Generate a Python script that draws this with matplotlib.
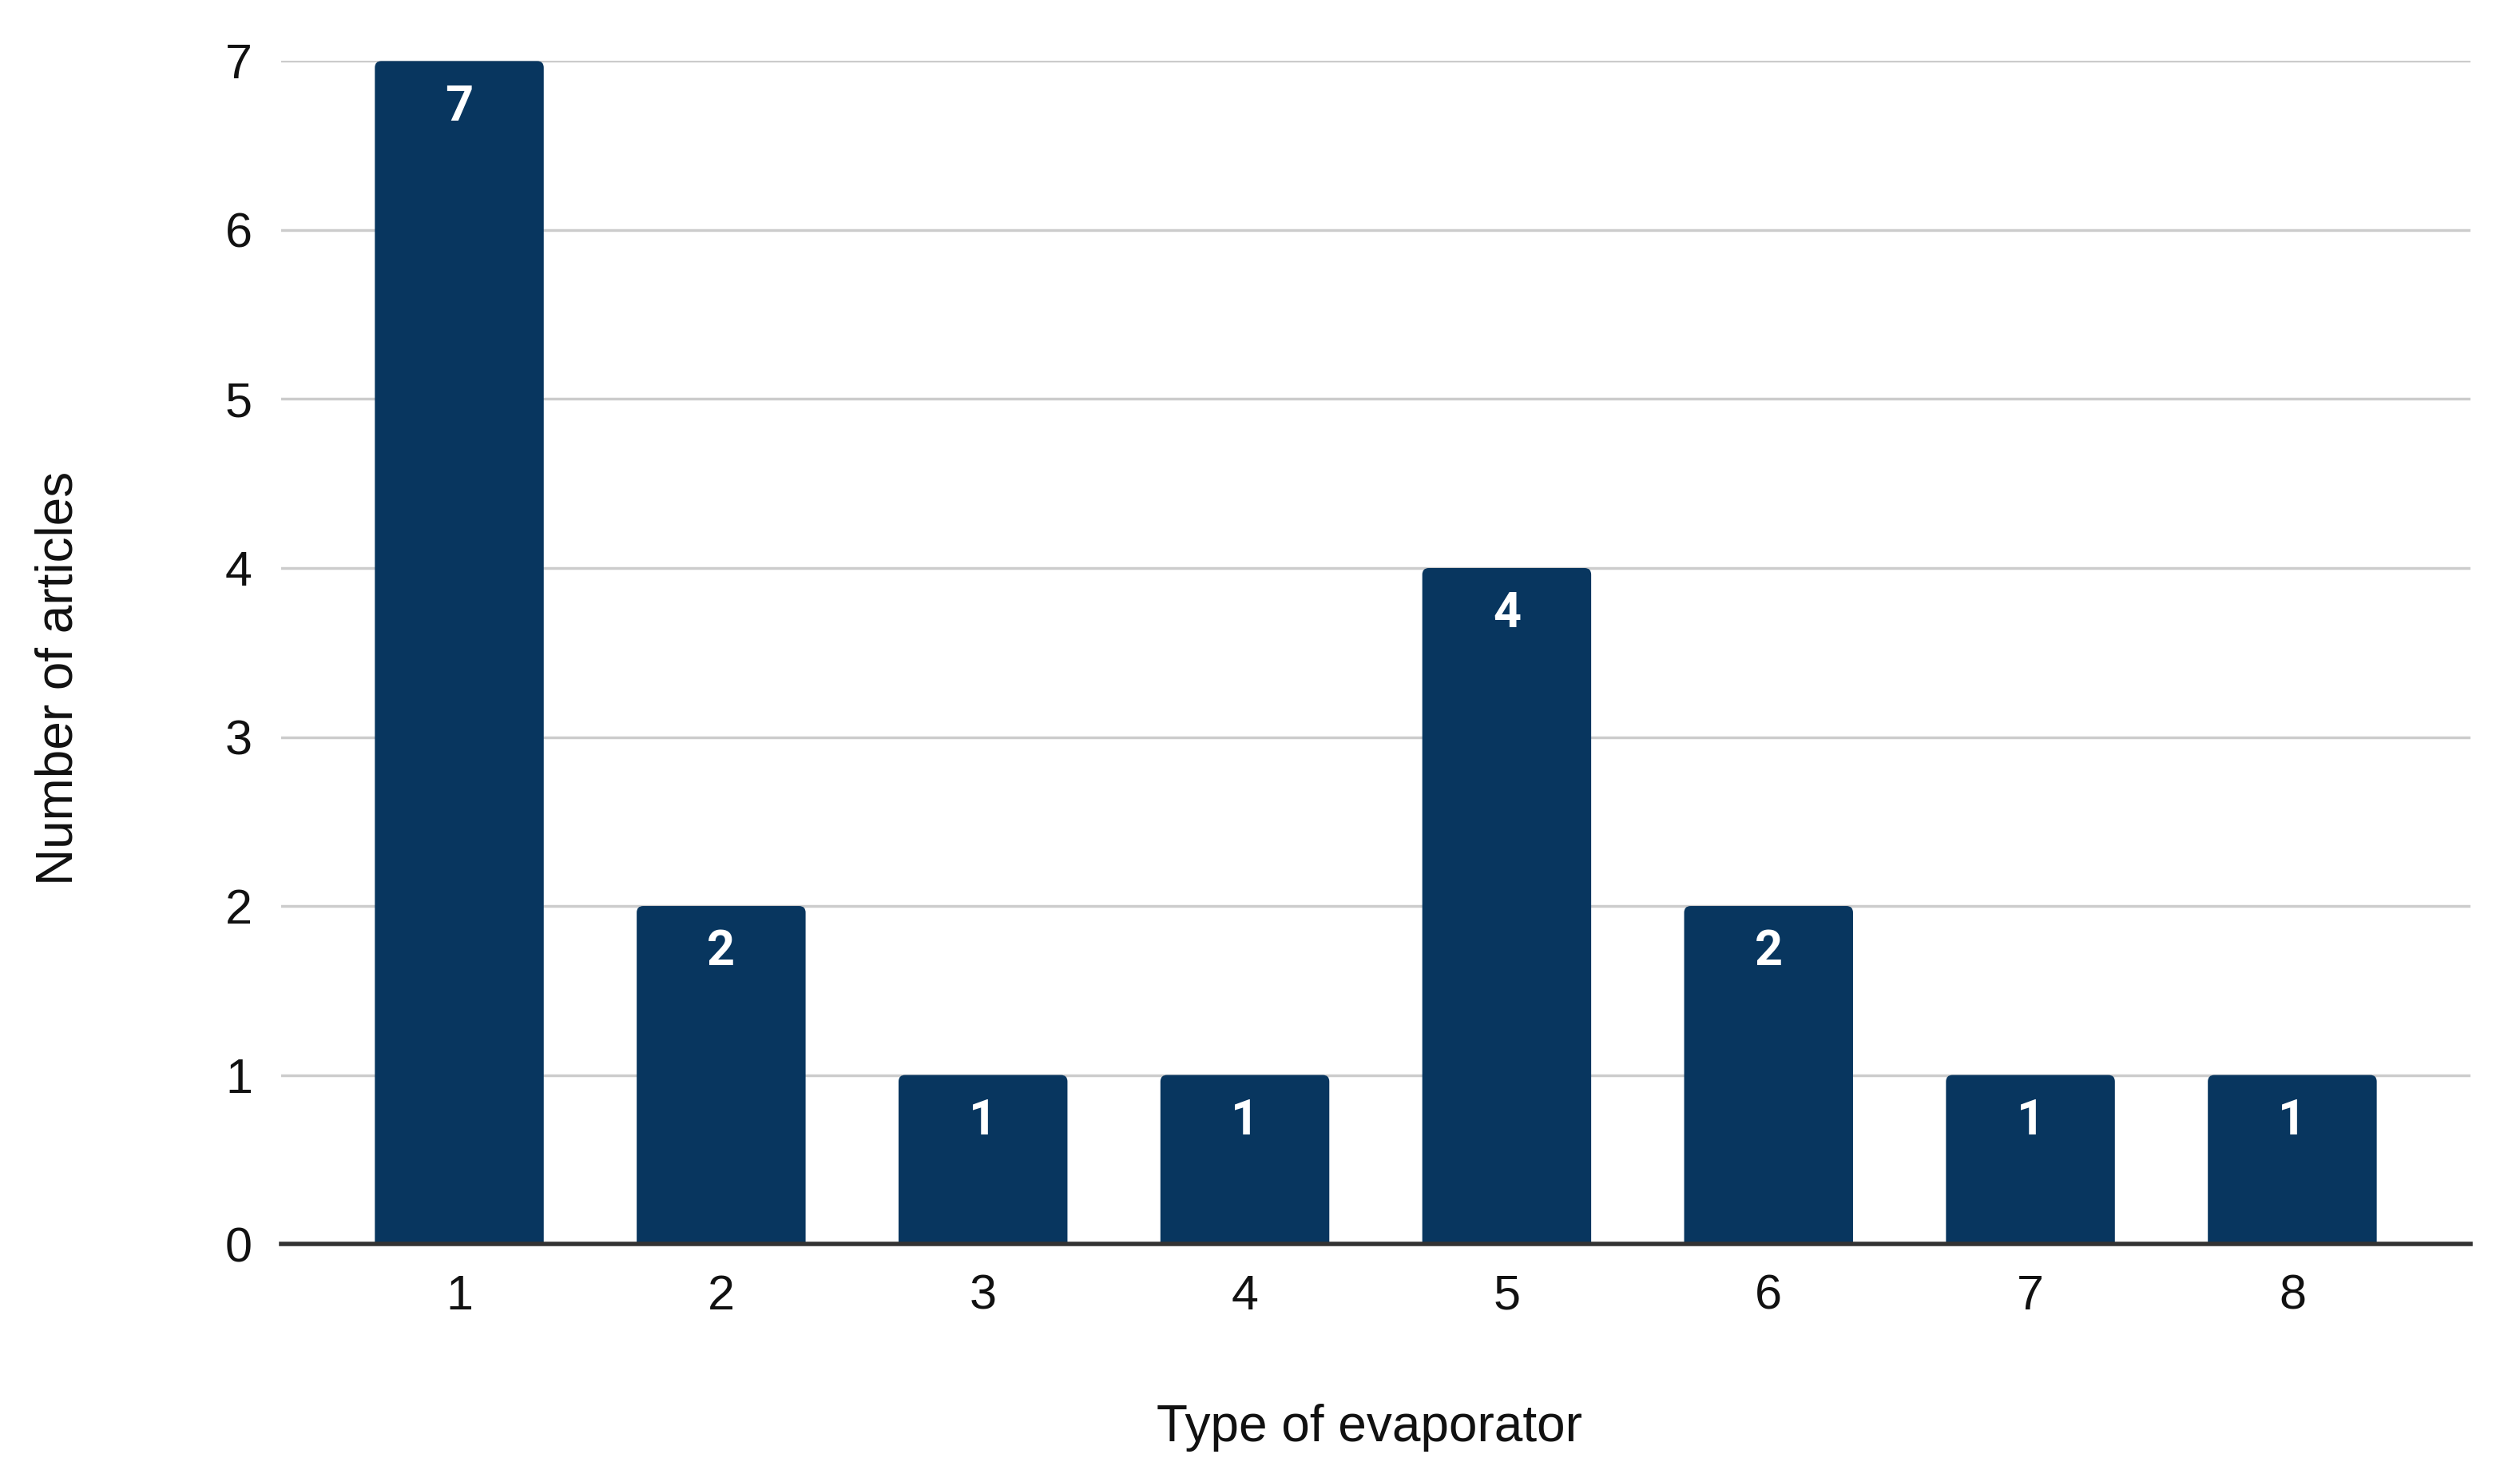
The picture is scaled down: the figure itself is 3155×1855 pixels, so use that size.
import numpy as np
import matplotlib.pyplot as plt
from matplotlib.patches import FancyBboxPatch

# Number of articles per evaporator type
types = ["1", "2", "3", "4", "5", "6", "7", "8"]
counts = [7, 2, 1, 1, 4, 2, 1, 1]

bar_color = "#08365f"

fig = plt.figure(figsize=(31.55, 18.55), dpi=100)
ax = fig.add_axes([0.1116, 0.1606, 0.8687, 0.7982])

x = np.arange(1, len(types) + 1)
bars = ax.bar(x, counts, width=0.645, color=bar_color, zorder=3)

# swap plain rectangles for ones with slightly rounded top corners
for b in bars:
    bx, bw, bh = b.get_x(), b.get_width(), b.get_height()
    b.set_visible(False)
    p = FancyBboxPatch((bx, -0.2), bw, bh + 0.2,
                       boxstyle="round,pad=0,rounding_size=0.025",
                       mutation_aspect=1.55, facecolor=bar_color,
                       edgecolor="none", zorder=3)
    ax.add_patch(p)

for xi, c in zip(x, counts):
    ax.text(xi, c - 0.27, str(c), ha="center", va="center", color="white",
            fontsize=44, fontweight="bold", family="Roboto", zorder=4)

ax.set_xlim(0.32, 8.68)
ax.set_ylim(0, 7)
ax.set_xticks(x)
ax.set_xticklabels(types)
ax.set_yticks(np.arange(0, 8))

ax.grid(axis="y", color="#cccccc", linewidth=2.5, zorder=0)
ax.set_axisbelow(True)
for s in ["top", "right", "left"]:
    ax.spines[s].set_visible(False)
ax.spines["bottom"].set_color("#333333")
ax.spines["bottom"].set_linewidth(4)
ax.spines["bottom"].set_zorder(5)

ax.tick_params(axis="x", length=0, pad=27, labelsize=44, labelcolor="#111111")
ax.tick_params(axis="y", length=0, pad=26, labelsize=44, labelcolor="#111111")
for lab in ax.get_xticklabels() + ax.get_yticklabels():
    lab.set_family("Liberation Sans")

fig.text(0.5435, 1 - 1787 / 1855, "Type of evaporator", ha="center", va="center",
         fontsize=46, family="Liberation Sans", color="#111111")
fig.text(74 / 3155, 1 - 849 / 1855, "Number of articles", ha="center", va="center",
         rotation=90, fontsize=46, family="Liberation Sans", color="#111111")

plt.savefig("out.png", dpi=100)
